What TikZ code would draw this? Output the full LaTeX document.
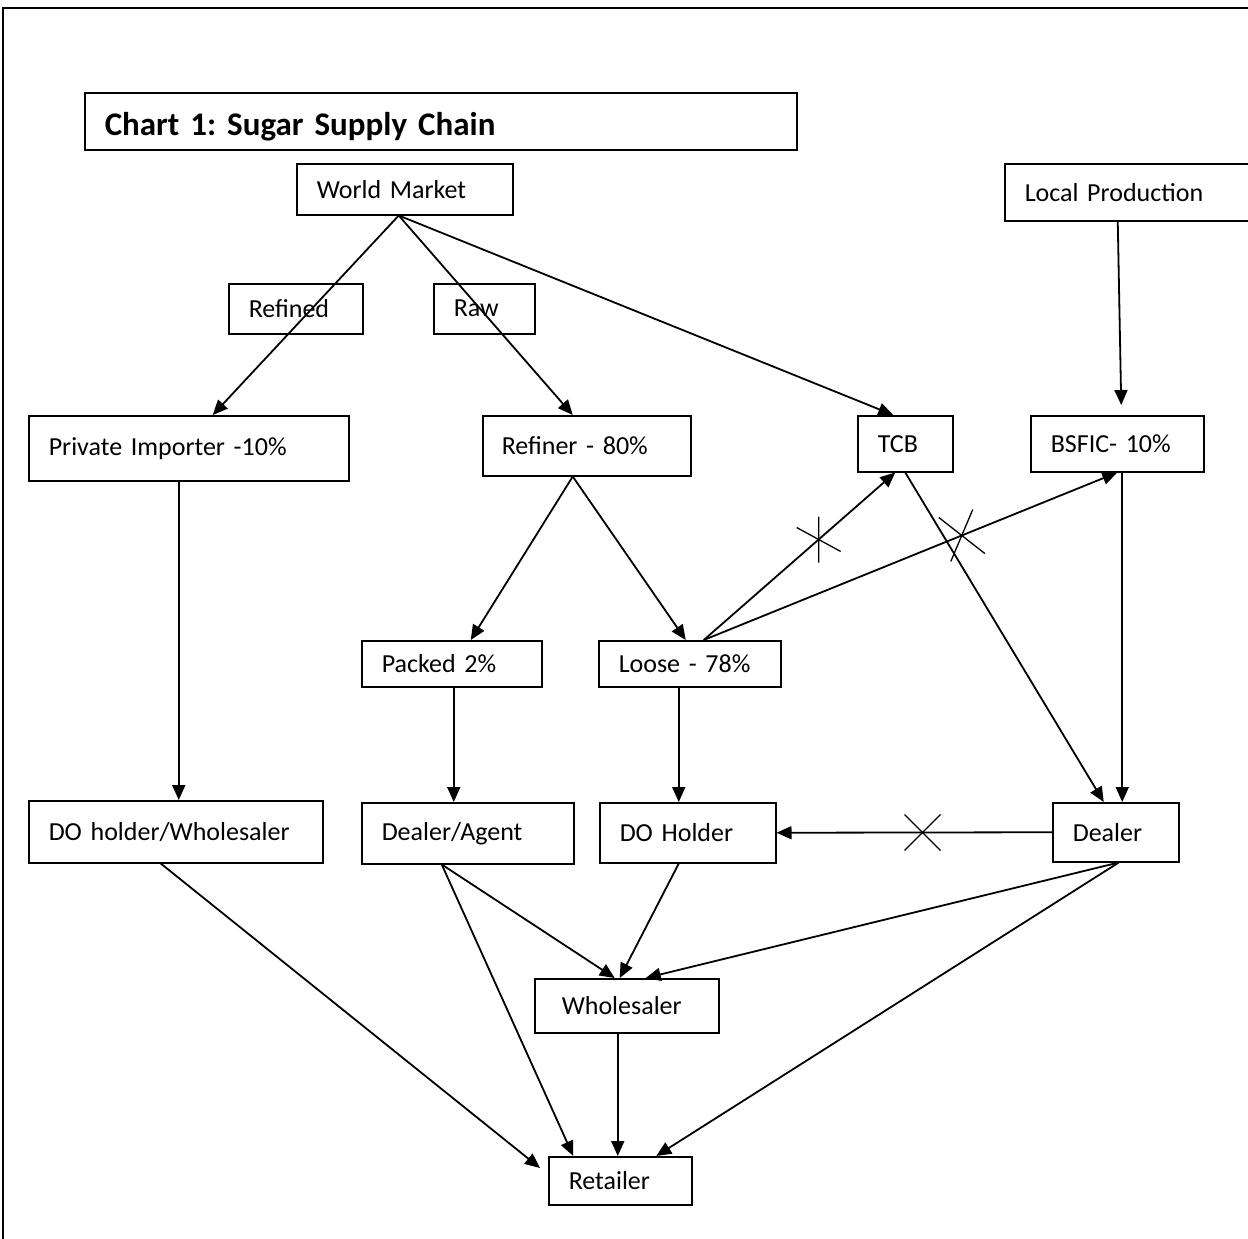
\documentclass[tikz,border=0pt]{standalone}
\usepackage{fontspec}
\setmainfont{Carlito}
\usetikzlibrary{arrows.meta}
\frenchspacing

\begin{document}
\begin{tikzpicture}[x=1pt, y=-1pt, line width=1.8pt,
    font=\fontsize{26}{30}\selectfont,
    box/.style={draw, line width=1.5pt, anchor=north west, inner xsep=20pt,
      inner ysep=0pt, align=left},
    arr/.style={-{Triangle[length=15pt, width=13pt]}},
    tick/.style={line width=1.3pt}]
  \useasboundingbox (0,0) rectangle (1248,1239);
  \clip (0,0) rectangle (1248,1239);
  % --- page frame ---
  \draw (3,1239) -- (3,8) -- (1260,8);
  % --- boxes ---
  \node[box, text width=672pt, minimum height=57pt,
    font=\fontsize{33}{38}\selectfont\bfseries] (title) at (84,92)
    {\raisebox{-14pt}[0pt][0pt]{Chart 1: Sugar Supply Chain}};
  \node[box, text width=176pt, minimum height=51pt] (wm) at (296,163) {World Market};
  \node[box, text width=220pt, minimum height=57pt] (lp) at (1004,163) {Local Production};
  \node[box, text width=94pt, minimum height=50pt] (refd) at (228,283) {Refined};
  \node[box, text width=61pt, minimum height=50pt] (raw) at (433,283) {Raw};
  \node[box, text width=280pt, minimum height=65pt] (pi) at (28,415) {Private Importer -10\%};
  \node[box, text width=170pt, minimum height=60pt, inner xsep=19pt] (ref) at (482,415) {Refiner - 80\%};
  \node[box, text width=55pt, minimum height=56pt] (tcb) at (857,415) {TCB};
  \node[box, text width=133pt, minimum height=56pt] (bsfic) at (1030,415) {BSFIC- 10\%};
  \node[box, text width=140pt, minimum height=46pt] (packed) at (361,640) {Packed 2\%};
  \node[box, text width=142pt, minimum height=46pt] (loose) at (598,640) {Loose - 78\%};
  \node[box, text width=254pt, minimum height=62pt] (dowh) at (28,800) {DO holder/Wholesaler};
  \node[box, text width=172pt, minimum height=61pt] (agent) at (361,802) {Dealer/Agent};
  \node[box, text width=136pt, minimum height=60pt] (doh) at (599,802) {DO Holder};
  \node[box, text width=86pt, minimum height=59pt] (dealer) at (1052,802) {Dealer};
  \node[box, text width=130pt, minimum height=54pt, inner xsep=27pt] (whole) at (534,978) {Wholesaler};
  \node[box, text width=103pt, minimum height=48pt] (ret) at (548,1156) {Retailer};
  % --- from the world market ---
  \draw[arr] ([xshift=-6pt]wm.south) -- ([xshift=24pt]pi.north);
  \draw[arr] ([xshift=-6pt]wm.south) -- ([xshift=-14pt]ref.north);
  \draw[arr] ([xshift=-6pt]wm.south) -- ([xshift=-12pt]tcb.north);
  \draw[arr] ([xshift=-17pt]lp.south) -- ([xshift=4pt, yshift=10pt]bsfic.north);
  % --- second level ---
  \draw[arr] ([xshift=-10pt]pi.south) -- ([xshift=-10pt]pi.south |- dowh.north);
  \draw[arr] ([xshift=-14pt]ref.south) -- ([xshift=19pt]packed.north);
  \draw[arr] ([xshift=-14pt]ref.south) -- ([xshift=-4pt]loose.north);
  \draw[arr] ([xshift=14pt]loose.north) -- coordinate[pos=0.6] (x1) ([xshift=-10pt]tcb.south);
  \draw[arr] ([xshift=14pt]loose.north) -- coordinate[pos=0.624] (x2) (bsfic.south);
  \draw[arr] (tcb.south) -- ([xshift=-12pt]dealer.north);
  \draw[arr] ([xshift=5pt]bsfic.south) -- ([xshift=5pt]bsfic.south |- dealer.north);
  \draw[arr] ([xshift=2pt]packed.south) -- ([xshift=2pt]packed.south |- agent.north);
  \draw[arr] ([xshift=-11pt]loose.south) -- ([xshift=-11pt]loose.south |- doh.north);
  \draw[arr] (dealer.west) -- coordinate[pos=0.47] (x3) (doh.east);
  % --- crossed out links ---
  \draw[tick] ([yshift=23pt]x1) -- ([yshift=-23pt]x1)
    ([xshift=-22pt, yshift=12pt]x1) -- ([xshift=22pt, yshift=-12pt]x1);
  \draw[tick] ([xshift=-23pt, yshift=18pt]x2) -- ([xshift=23pt, yshift=-18pt]x2)
    ([xshift=11pt, yshift=26pt]x2) -- ([xshift=-11pt, yshift=-26pt]x2);
  \draw[tick] ([xshift=-18pt, yshift=18pt]x3) -- ([xshift=18pt, yshift=-18pt]x3)
    ([xshift=-18pt, yshift=-18pt]x3) -- ([xshift=18pt, yshift=18pt]x3);
  % --- down to the retailer ---
  \draw[arr] ([xshift=-15pt]dowh.south) -- ([xshift=-8pt, yshift=-12pt]ret.north west);
  \draw[arr] ([xshift=-26pt]agent.south) -- ([xshift=-12pt]whole.north);
  \draw[arr] ([xshift=-26pt]agent.south) -- ([xshift=-47pt]ret.north);
  \draw[arr] ([xshift=-9pt]doh.south) -- ([xshift=-7pt]whole.north);
  \draw[arr] ([xshift=3pt]dealer.south) -- ([xshift=19pt]whole.north);
  \draw[arr] ([xshift=3pt]dealer.south) -- ([xshift=36pt]ret.north);
  \draw[arr] ([xshift=-9pt]whole.south) -- ([xshift=-9pt]whole.south |- ret.north);
\end{tikzpicture}
\end{document}
